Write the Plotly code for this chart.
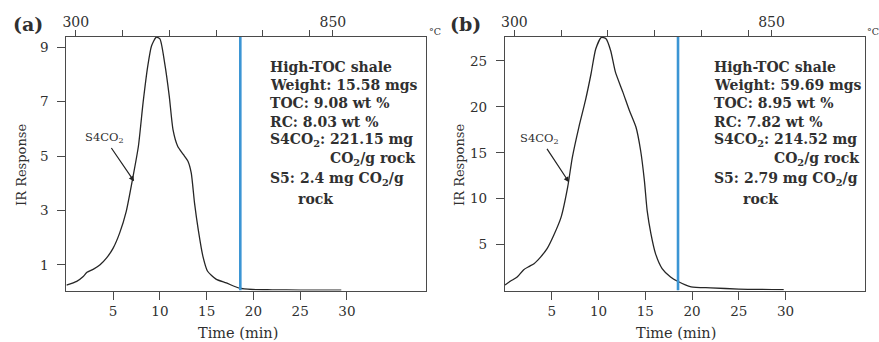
import plotly.graph_objects as go

# ---- data -----------------------------------------------------------------
# Panel (a): IR response (CO2) vs. oxidation time
time_a = [0.0, 1.1, 1.8, 2.2, 2.9, 3.6, 4.3, 5.0, 5.7, 6.4, 7.1, 7.7, 8.2, 8.7,
          9.1, 9.6, 10.0, 10.5, 11.0, 11.4, 11.9, 12.5, 13.0, 13.35, 13.7, 14.1,
          14.6, 15.1, 16.0, 17.1, 18.5, 19.9, 22.0, 25.0, 29.4]
ir_a = [0.26, 0.40, 0.58, 0.73, 0.85, 1.01, 1.26, 1.62, 2.18, 2.97, 4.2, 5.36,
        6.96, 8.3, 9.04, 9.36, 9.3, 8.43, 7.2, 5.97, 5.36, 5.06, 4.81, 4.38,
        3.28, 2.3, 1.32, 0.77, 0.48, 0.34, 0.15, 0.1, 0.09, 0.08, 0.08]

# Panel (b)
time_b = [0.0, 0.6, 1.3, 2.0, 2.6, 3.1, 3.8, 4.5, 5.2, 6.0, 6.7, 7.2, 7.9, 8.6,
          9.2, 9.7, 10.3, 10.8, 11.3, 11.8, 12.6, 13.3, 14.0, 14.5, 14.9, 15.2,
          15.6, 16.1, 16.8, 17.7, 18.4, 19.9, 22.0, 25.0, 29.8]
ir_b = [0.6, 1.04, 1.48, 2.28, 2.64, 2.93, 3.65, 4.57, 6.0, 8.0, 11.26, 14.5,
        17.8, 20.7, 23.6, 26.3, 27.55, 27.4, 26.1, 23.8, 21.6, 19.6, 17.8,
        15.25, 12.0, 8.7, 6.2, 4.0, 2.4, 1.48, 1.04, 0.4, 0.3, 0.17, 0.1]

# End of the S4CO2 window (min)
cutoff_a = 18.6
cutoff_b = 18.5

# Arrow tip of the S4CO2 label (time, IR response)
s4_tip_a = (7.24, 4.07)
s4_tip_b = (6.84, 11.8)

time_ticks = [5, 10, 15, 20, 25, 30]
ir_ticks_a = [1, 3, 5, 7, 9]
ir_ticks_b = [5, 10, 15, 20, 25]

# Temperature scale on the top axis (degC); ramp of 20 degC/min from 300 at 1 min
temp_labelled = [300, 850]
temp_minor = [400, 500, 600, 700, 800]
ramp_start_temp = 300
ramp_start_time = 1.0
ramp_rate = 20.0

info_a = ["High-TOC shale", "Weight: 15.58 mgs", "TOC: 9.08 wt %",
          "RC: 8.03 wt %", "S4CO<sub>2</sub>: 221.15 mg",
          "CO<sub>2</sub>/g rock", "S5: 2.4 mg CO<sub>2</sub>/g", "rock"]
info_b = ["High-TOC shale", "Weight: 59.69 mgs", "TOC: 8.95 wt %",
          "RC: 7.82 wt %", "S4CO<sub>2</sub>: 214.52 mg",
          "CO<sub>2</sub>/g rock", "S5: 2.79 mg CO<sub>2</sub>/g", "rock"]

# ---- layout helpers -------------------------------------------------------
W, H = 879, 342
FONT = "DejaVu Serif"
TXT = "#303030"
AX = "#4a4a4a"


def fx(px):
    return px / W


def fy(py):
    return (H - py) / H


time_range = [0, 38.5]
temp_range = [ramp_start_temp + ramp_rate * (t - ramp_start_time) for t in time_range]

dom_y = [fy(290.6), fy(37.0)]
dom_a = [fx(62.7), fx(424.3)]
dom_b = [fx(503.3), fx(865.0)]

fig = go.Figure()

curve = dict(mode="lines", line=dict(color="#262626", width=1.3, shape="spline",
                                     smoothing=0.6), hoverinfo="skip", showlegend=False)
fig.add_trace(go.Scatter(x=time_a, y=ir_a, xaxis="x", yaxis="y", **curve))
fig.add_trace(go.Scatter(x=time_b, y=ir_b, xaxis="x2", yaxis="y2", **curve))

blue = dict(mode="lines", line=dict(color="#3b95d4", width=2.6),
            hoverinfo="skip", showlegend=False)
fig.add_trace(go.Scatter(x=[cutoff_a, cutoff_a], y=[0.06, 9.37], xaxis="x", yaxis="y", **blue))
fig.add_trace(go.Scatter(x=[cutoff_b, cutoff_b], y=[0, 27.6], xaxis="x2", yaxis="y2", **blue))

# temperature axes carry no marks; an empty series keeps them on the page
for xa, ya in (("x3", "y"), ("x4", "y2")):
    fig.add_trace(go.Scatter(x=temp_labelled, y=[None] * len(temp_labelled), xaxis=xa,
                             yaxis=ya, mode="lines", hoverinfo="skip", showlegend=False))

tickfont = dict(family=FONT, size=13.5, color=TXT)
xbase = dict(range=time_range, tickvals=time_ticks, ticks="outside", ticklen=8,
             tickwidth=1.1, tickcolor=AX, showline=True, linecolor=AX, linewidth=1.2,
             mirror=True, showgrid=False, zeroline=False, tickfont=tickfont,
             ticklabelstandoff=0)
ybase = dict(ticks="outside", ticklen=8, tickwidth=1.1, tickcolor=AX, showline=True,
             linecolor=AX, linewidth=1.2, mirror=True, showgrid=False, zeroline=False,
             tickfont=tickfont, domain=dom_y, ticklabelstandoff=6)
topbase = dict(range=temp_range, tickvals=temp_labelled, side="top", ticks="outside",
               ticklen=6, tickwidth=1.1, tickcolor=AX,
               minor=dict(tickvals=temp_minor, ticks="outside", ticklen=6,
                          tickwidth=1.1, tickcolor=AX, showgrid=False),
               showline=False, showgrid=False, zeroline=False,
               tickfont=dict(family=FONT, size=14, color=TXT), ticklabelstandoff=-3)

fig.update_layout(
    width=W, height=H,
    margin=dict(l=0, r=0, t=0, b=0),
    paper_bgcolor="white", plot_bgcolor="white",
    xaxis=dict(domain=dom_a, anchor="y", **xbase),
    yaxis=dict(anchor="x", range=[0.06, 9.37], tickvals=ir_ticks_a, **ybase),
    xaxis2=dict(domain=dom_b, anchor="y2", **xbase),
    yaxis2=dict(anchor="x2", range=[0, 27.6], tickvals=ir_ticks_b, **ybase),
    xaxis3=dict(domain=dom_a, anchor="y", overlaying="x", **topbase),
    xaxis4=dict(domain=dom_b, anchor="y2", overlaying="x2", **topbase),
)

ann = []


def text(px, py, s, size=16, bold=False, xanchor="center", angle=0):
    if bold:
        s = "<b>" + s + "</b>"
    ann.append(dict(x=fx(px), y=fy(py), xref="paper", yref="paper", text=s,
                    showarrow=False, xanchor=xanchor, yanchor="middle",
                    textangle=angle, font=dict(family=FONT, size=size, color=TXT)))


rows = [66.7, 85.0, 103.3, 121.7, 140.0, 158.8, 179.0, 198.8]
for off, lab, info, left, indent_co2, indent_rock in (
        (0, "(a)", info_a, 265.5, 325.5, 293.5),
        (440, "(b)", info_b, 711.5, 772.0, 740.0)):
    text(off + 24, 24, lab, size=19, bold=True)
    text(off + 433, 31, "°C", size=9.5)
    text(off + 235, 333, "Time (min)", size=14.5)
    text(off + 18, 165, "IR Response", size=13, angle=-90)
    for i, (line, py) in enumerate(zip(info, rows)):
        x0 = left
        if i == 5:
            x0 = indent_co2
        if i == 7:
            x0 = indent_rock
        text(x0, py, line, size=14, bold=True, xanchor="left")

# S4CO2 labels with arrows pointing at the curve
for tip, xr, yr, dx, dy in ((s4_tip_a, "x", "y", -30, -44),
                            (s4_tip_b, "x2", "y2", -29, -44)):
    ann.append(dict(x=tip[0], y=tip[1], xref=xr, yref=yr, text="S4CO<sub>2</sub>",
                    showarrow=True, ax=dx, ay=dy, arrowhead=2, arrowsize=0.9,
                    arrowwidth=1.2, arrowcolor="#222", standoff=0, startstandoff=2,
                    font=dict(family=FONT, size=11.5, color=TXT)))

fig.update_layout(annotations=ann)
fig.write_html("out.html")
